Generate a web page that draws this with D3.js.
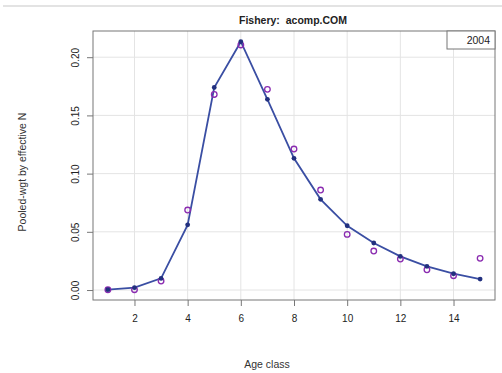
<!DOCTYPE html>
<html><head><meta charset="utf-8">
<script src="https://cdn.jsdelivr.net/npm/d3@7"></script>
<style>body{margin:0;background:#fff}svg{display:block}text{font-family:"Liberation Sans",Arial,sans-serif}</style>
</head><body><svg id="c" width="502" height="373"></svg>
<script>
const ages = [1,2,3,4,5,6,7,8,9,10,11,12,13,14,15];
const expected = [0.0003,0.002,0.010,0.056,0.174,0.2133,0.1638,0.1131,0.0779,0.0552,0.0404,0.0289,0.0204,0.014,0.0094];
const observed = [0.0002,0.0003,0.0077,0.0687,0.168,0.2105,0.1724,0.1211,0.0859,0.0478,0.0335,0.0266,0.0174,0.0123,0.0272];
const xTicks = [2,4,6,8,10,12,14];
const yTicks = [0,0.05,0.10,0.15,0.20];
const title = "Fishery:  acomp.COM";
const legendLabel = "2004";

const svg = d3.select("#c");
const L=93,R=495,T=31,B=300;
const x = d3.scaleLinear().domain([0.44,15.56]).range([L,R]);
const y = d3.scaleLinear().domain([-0.00856,0.2225]).range([B,T]);

svg.append("line").attr("x1",3).attr("x2",502).attr("y1",6).attr("y2",6).attr("stroke","#c8c8c8").attr("stroke-width",1.2);

// grid
const g = svg.append("g");
g.selectAll(".gx").data(xTicks).join("line").attr("x1",d=>x(d)).attr("x2",d=>x(d)).attr("y1",T).attr("y2",B).attr("stroke","#e4e4e4").attr("stroke-width",1);
g.selectAll(".gy").data(yTicks).join("line").attr("x1",L).attr("x2",R).attr("y1",d=>y(d)).attr("y2",d=>y(d)).attr("stroke","#e4e4e4").attr("stroke-width",1);

// axes
const xa = svg.append("g").attr("transform",`translate(0,${B})`).call(d3.axisBottom(x).tickValues(xTicks).tickFormat(d3.format("d")).tickSize(6).tickPadding(9));
xa.select(".domain").remove();
xa.selectAll("line").attr("stroke","#777");
xa.selectAll("text").attr("font-size",10).attr("fill","#222");
const ya = svg.append("g").attr("transform",`translate(${L},0)`).call(d3.axisLeft(y).tickValues(yTicks).tickFormat(d3.format(".2f")).tickSize(6).tickPadding(0));
ya.select(".domain").remove();
ya.selectAll("line").attr("stroke","#777");
ya.selectAll("text").attr("font-size",10).attr("fill","#222").attr("text-anchor","middle").attr("transform",d=>`translate(-18,0) rotate(-90)`).attr("x",0).attr("dy","0.35em");

// box
svg.append("rect").attr("x",L).attr("y",T).attr("width",R-L).attr("height",B-T).attr("fill","none").attr("stroke","#777").attr("stroke-width",1);

// line
const line = d3.line().x((d,i)=>x(ages[i])).y(d=>y(d)).curve(d3.curveLinear);
svg.append("path").datum(expected).attr("d",line).attr("fill","none").attr("stroke","#3a4ea3").attr("stroke-width",1.8);
svg.selectAll(".obs").data(observed).join("circle").attr("cx",(d,i)=>x(ages[i])).attr("cy",d=>y(d)).attr("r",2.8).attr("fill","none").attr("stroke","#8a2bb0").attr("stroke-width",1.3);
svg.selectAll(".exp").data(expected).join("circle").attr("cx",(d,i)=>x(ages[i])).attr("cy",d=>y(d)).attr("r",2.4).attr("fill","#22307f");

// legend
svg.append("rect").attr("x",447).attr("y",T).attr("width",R-447).attr("height",18).attr("fill","#fff").attr("stroke","#777").attr("stroke-width",1);
svg.append("text").attr("x",490).attr("y",44).attr("text-anchor","end").attr("font-size",10.5).attr("fill","#222").text(legendLabel);

// titles
svg.append("text").attr("x",293).attr("y",24).attr("text-anchor","middle").attr("font-size",10.5).attr("font-weight","bold").attr("fill","#222").style("white-space","pre").text(title);
svg.append("text").attr("x",267).attr("y",368).attr("text-anchor","middle").attr("font-size",10.5).attr("fill","#333").text("Age class");
svg.append("text").attr("transform","translate(26,172) rotate(-90)").attr("text-anchor","middle").attr("font-size",10.5).attr("fill","#333").text("Pooled-wgt by effective N");
</script></body></html>
